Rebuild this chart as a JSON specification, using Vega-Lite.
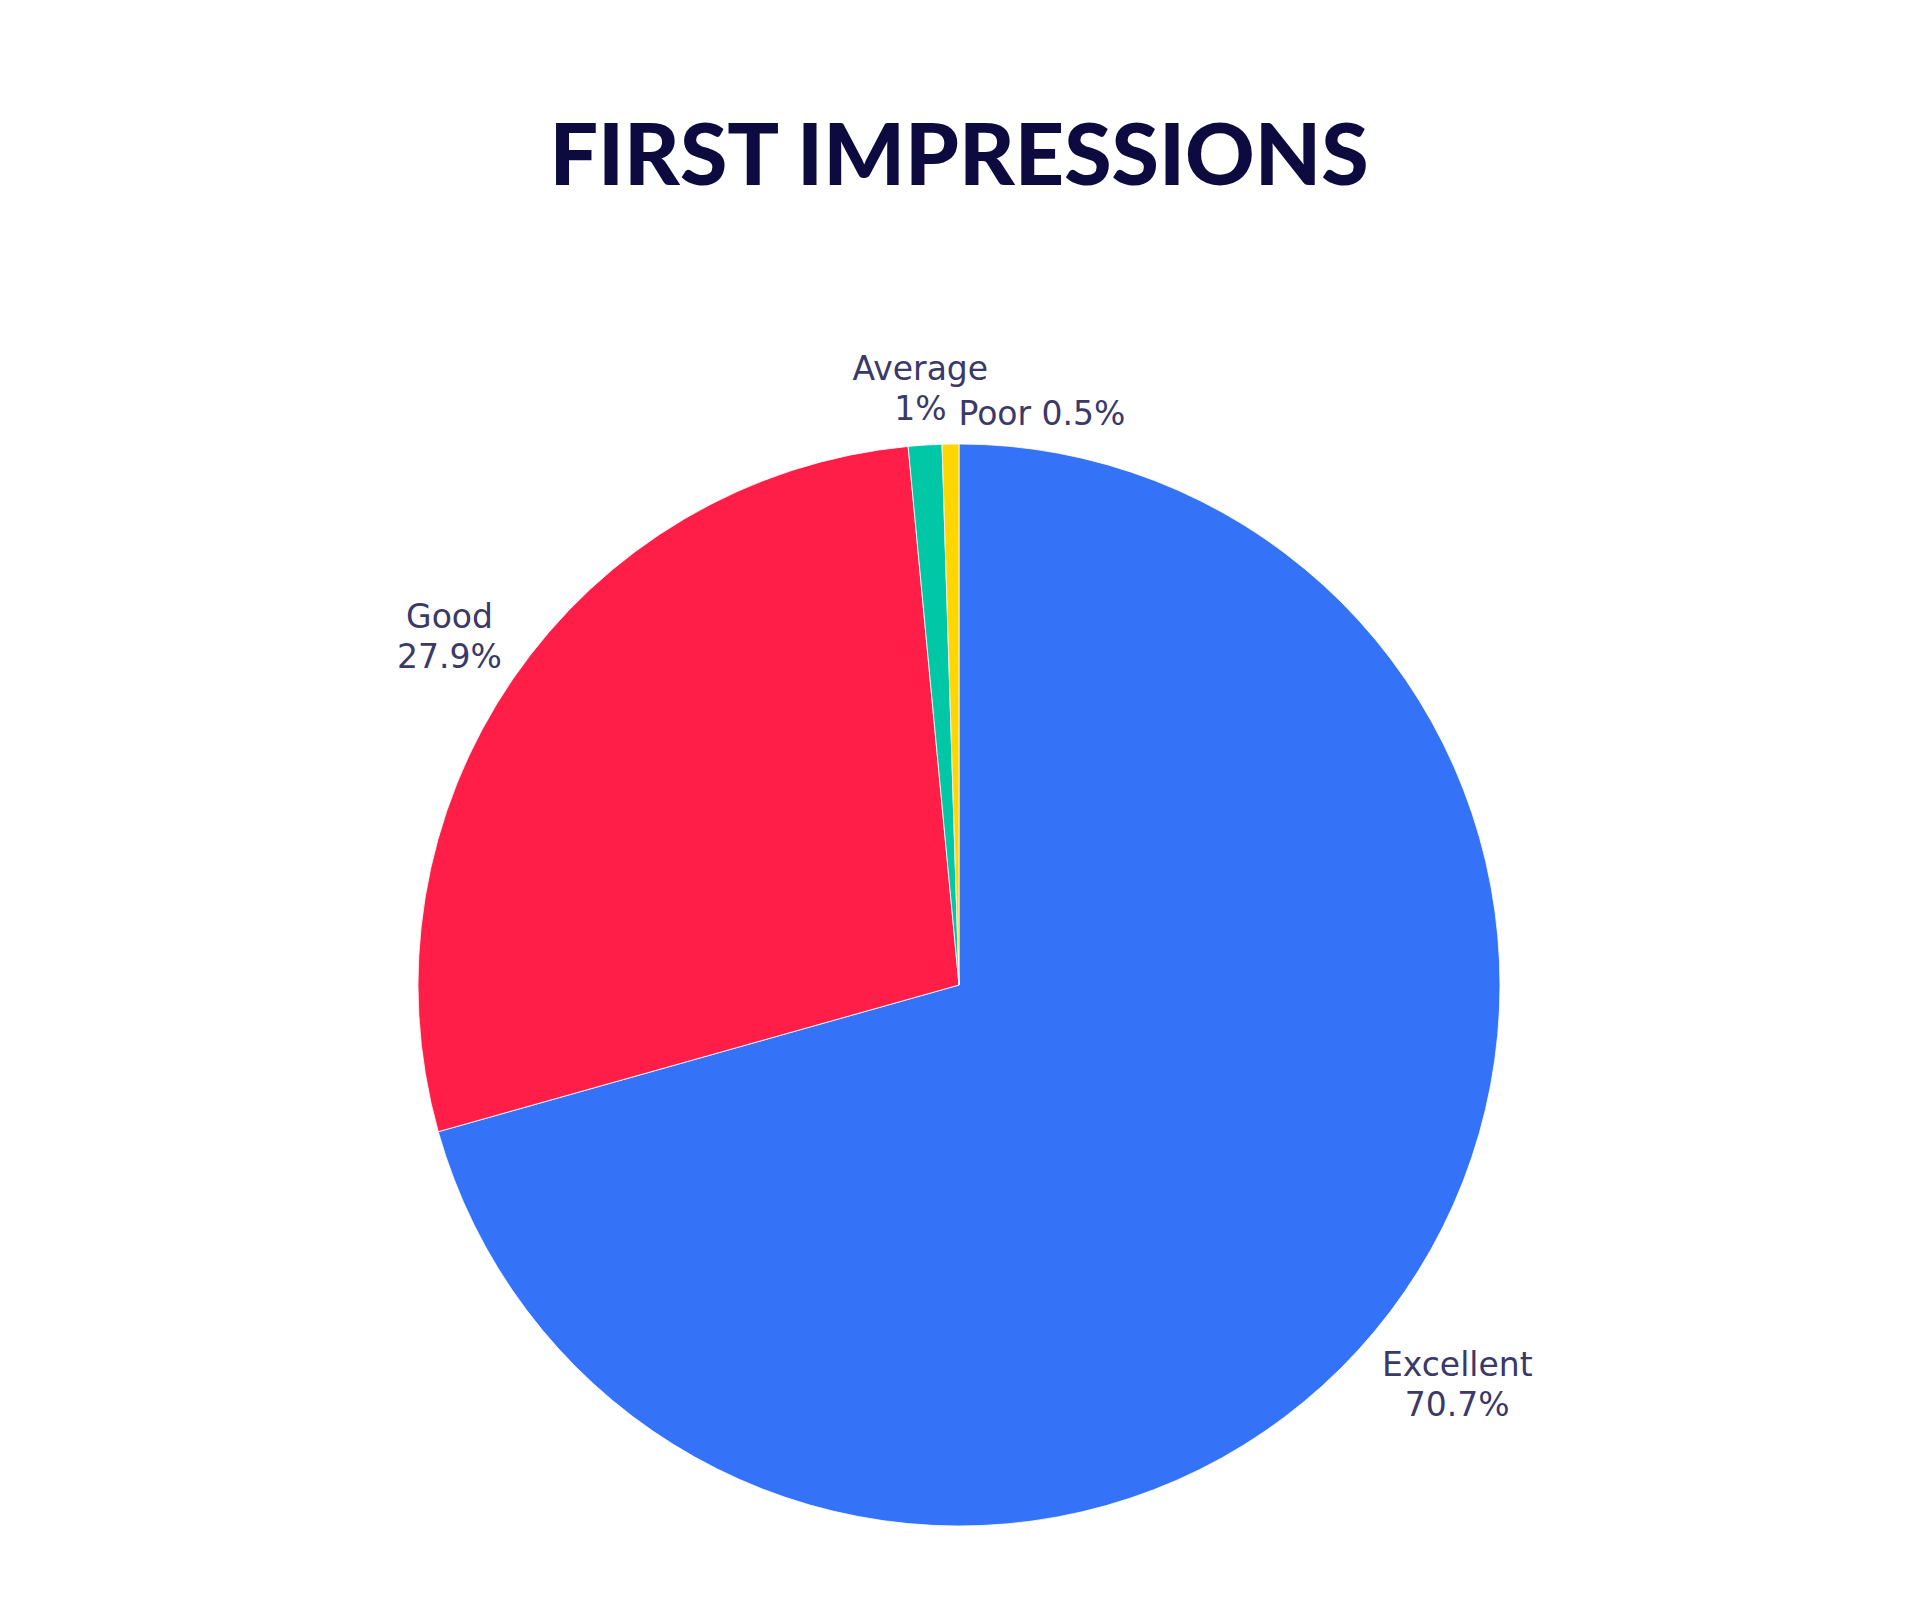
{
  "$schema": "https://vega.github.io/schema/vega-lite/v6.json",
  "width": 1082,
  "height": 1082,
  "autosize": {"type": "none"},
  "padding": {"left": 418, "top": 444, "right": 420, "bottom": 74},
  "background": "#ffffff",
  "title": {
    "text": "FIRST IMPRESSIONS",
    "font": "Lato",
    "fontWeight": 900,
    "fontSize": 86,
    "color": "#0c0a3e",
    "anchor": "middle",
    "frame": "group",
    "baseline": "alphabetic",
    "offset": 59
  },
  "data": {
    "values": [
      {"rating": "Excellent", "pct": 70.7, "order": 1, "label": "Excellent\n70.7%"},
      {"rating": "Good", "pct": 27.9, "order": 2, "label": "Good\n27.9%"},
      {"rating": "Average", "pct": 1, "order": 3, "label": "Average\n1%"},
      {"rating": "Poor", "pct": 0.5, "order": 4, "label": "Poor 0.5%"}
    ]
  },
  "encoding": {
    "theta": {"field": "pct", "type": "quantitative", "stack": true},
    "order": {"field": "order", "type": "quantitative"}
  },
  "layer": [
    {
      "mark": {"type": "arc", "stroke": "#ffffff", "strokeWidth": 0.8},
      "encoding": {
        "color": {
          "field": "rating",
          "type": "nominal",
          "scale": {
            "domain": ["Excellent", "Good", "Average", "Poor"],
            "range": ["#3473f8", "#ff1e48", "#00c8a6", "#ffd600"]
          },
          "legend": null
        }
      }
    },
    {
      "mark": {"type": "text", "radius": 625, "dy": 4, "font": "DejaVu Sans", "fontSize": 33, "lineHeight": 40, "lineBreak": "\n", "align": "center", "baseline": "middle"},
      "encoding": {
        "detail": {"field": "rating"},
        "color": {"value": "#3a3968"},
        "text": {"condition": {"test": "datum.rating === 'Excellent'", "field": "label"}, "value": ""}
      }
    },
    {
      "mark": {"type": "text", "radius": 625, "dx": 6, "dy": -14, "font": "DejaVu Sans", "fontSize": 33, "lineHeight": 40, "lineBreak": "\n", "align": "center", "baseline": "middle"},
      "encoding": {
        "detail": {"field": "rating"},
        "color": {"value": "#3a3968"},
        "text": {"condition": {"test": "datum.rating === 'Good'", "field": "label"}, "value": ""}
      }
    },
    {
      "mark": {"type": "text", "radius": 616, "font": "DejaVu Sans", "fontSize": 33, "lineHeight": 40, "lineBreak": "\n", "align": "center", "baseline": "middle"},
      "encoding": {
        "detail": {"field": "rating"},
        "color": {"value": "#3a3968"},
        "text": {"condition": {"test": "datum.rating === 'Average'", "field": "label"}, "value": ""}
      }
    },
    {
      "mark": {"type": "text", "radius": 577, "dx": 92, "dy": 7, "font": "DejaVu Sans", "fontSize": 33, "align": "center", "baseline": "middle"},
      "encoding": {
        "detail": {"field": "rating"},
        "color": {"value": "#3a3968"},
        "text": {"condition": {"test": "datum.rating === 'Poor'", "field": "label"}, "value": ""}
      }
    }
  ]
}
